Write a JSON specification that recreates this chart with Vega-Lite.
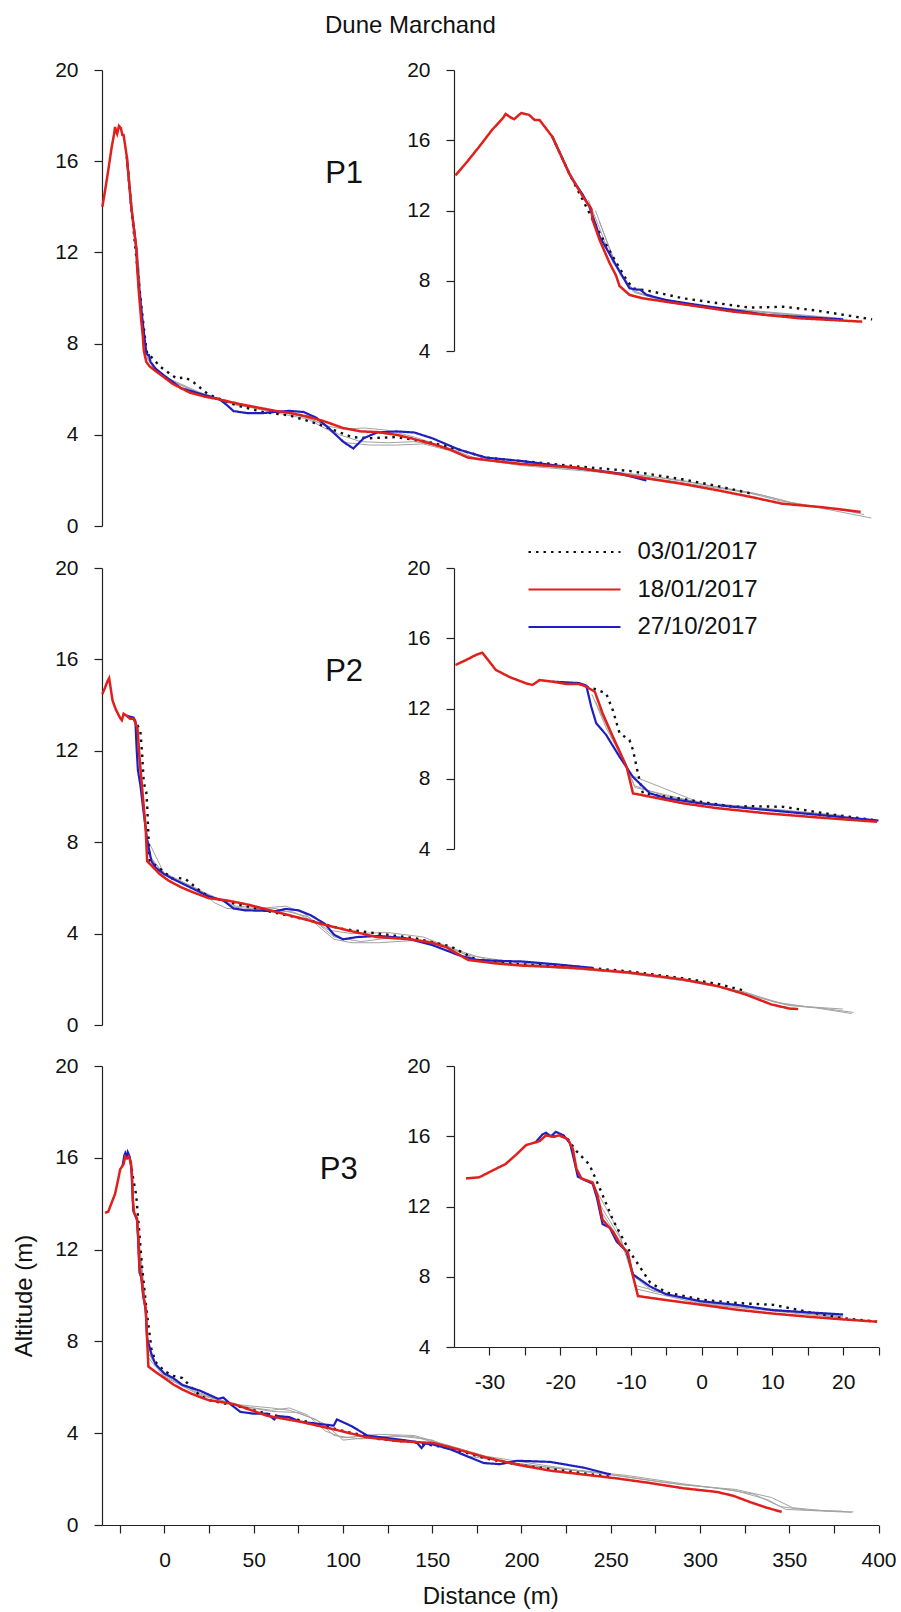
{
  "$schema": "https://vega.github.io/schema/vega-lite/v6.json",
  "width": 901,
  "height": 1612,
  "autosize": {"type": "none"},
  "padding": 0,
  "background": "white",
  "title": {"text": "Dune Marchand", "anchor": "start", "frame": "group", "dx": 325, "dy": 15, "offset": -23, "fontSize": 24, "font": "Liberation Sans", "fontWeight": "normal", "color": "#111"},
  "config": {
    "view": {"stroke": null},
    "font": "Liberation Sans",
    "axis": {"grid": false, "domainColor": "#222", "tickColor": "#222", "labelColor": "#111", "labelFont": "Liberation Sans", "labelFontSize": 21, "tickSize": 8, "labelPadding": 16, "domainWidth": 1.2, "tickWidth": 1.2, "labelFlush": false, "labelOverlap": false, "titleFont": "Liberation Sans", "titleFontSize": 24, "titleFontWeight": "normal", "titleColor": "#111"}
  },
  "data": {"values": [
    {"p":"P1","s":"18/01/2017","x":-34.8,"y":14.0},{"p":"P1","s":"18/01/2017","x":-33.3,"y":14.7},{"p":"P1","s":"18/01/2017","x":-31.5,"y":15.6},{"p":"P1","s":"18/01/2017","x":-29.6,"y":16.6},{"p":"P1","s":"18/01/2017","x":-28.1,"y":17.25},{"p":"P1","s":"18/01/2017","x":-27.7,"y":17.5},{"p":"P1","s":"18/01/2017","x":-27.0,"y":17.3},{"p":"P1","s":"18/01/2017","x":-26.5,"y":17.2},{"p":"P1","s":"18/01/2017","x":-25.5,"y":17.55},{"p":"P1","s":"18/01/2017","x":-24.4,"y":17.45},{"p":"P1","s":"18/01/2017","x":-23.6,"y":17.15},{"p":"P1","s":"18/01/2017","x":-22.9,"y":17.15},{"p":"P1","s":"18/01/2017","x":-21.1,"y":16.2},{"p":"P1","s":"18/01/2017","x":-18.7,"y":14.1},{"p":"P1","s":"18/01/2017","x":-16.8,"y":12.8},{"p":"P1","s":"18/01/2017","x":-15.6,"y":12.1},{"p":"P1","s":"18/01/2017","x":-15.4,"y":11.45},{"p":"P1","s":"18/01/2017","x":-14.4,"y":10.3},{"p":"P1","s":"18/01/2017","x":-13.0,"y":9.0},{"p":"P1","s":"18/01/2017","x":-12.1,"y":8.3},{"p":"P1","s":"18/01/2017","x":-11.6,"y":7.7},{"p":"P1","s":"18/01/2017","x":-10.2,"y":7.2},{"p":"P1","s":"18/01/2017","x":-8.3,"y":7.0},{"p":"P1","s":"18/01/2017","x":-5.0,"y":6.8},{"p":"P1","s":"18/01/2017","x":-0.2,"y":6.52},{"p":"P1","s":"18/01/2017","x":4.5,"y":6.24},{"p":"P1","s":"18/01/2017","x":9.2,"y":6.05},{"p":"P1","s":"18/01/2017","x":13.9,"y":5.86},{"p":"P1","s":"18/01/2017","x":18.7,"y":5.76},{"p":"P1","s":"18/01/2017","x":22.7,"y":5.67},{"p":"P1","s":"18/01/2017","x":31,"y":5.55},{"p":"P1","s":"18/01/2017","x":42,"y":5.35},{"p":"P1","s":"18/01/2017","x":52,"y":5.2},{"p":"P1","s":"18/01/2017","x":62,"y":5.05},{"p":"P1","s":"18/01/2017","x":71,"y":4.95},{"p":"P1","s":"18/01/2017","x":80,"y":4.8},{"p":"P1","s":"18/01/2017","x":90,"y":4.58},{"p":"P1","s":"18/01/2017","x":100,"y":4.3},{"p":"P1","s":"18/01/2017","x":110,"y":4.15},{"p":"P1","s":"18/01/2017","x":119,"y":4.12},{"p":"P1","s":"18/01/2017","x":130,"y":4.0},{"p":"P1","s":"18/01/2017","x":138,"y":3.85},{"p":"P1","s":"18/01/2017","x":150,"y":3.6},{"p":"P1","s":"18/01/2017","x":160,"y":3.35},{"p":"P1","s":"18/01/2017","x":170,"y":3.0},{"p":"P1","s":"18/01/2017","x":185,"y":2.85},{"p":"P1","s":"18/01/2017","x":200,"y":2.72},{"p":"P1","s":"18/01/2017","x":230,"y":2.57},{"p":"P1","s":"18/01/2017","x":265,"y":2.15},{"p":"P1","s":"18/01/2017","x":290,"y":1.85},{"p":"P1","s":"18/01/2017","x":311,"y":1.55},{"p":"P1","s":"18/01/2017","x":330,"y":1.25},{"p":"P1","s":"18/01/2017","x":346,"y":0.98},{"p":"P1","s":"18/01/2017","x":369,"y":0.82},{"p":"P1","s":"18/01/2017","x":390,"y":0.62},
    {"p":"P1","s":"27/10/2017","x":-21.1,"y":16.2},{"p":"P1","s":"27/10/2017","x":-18.7,"y":14.1},{"p":"P1","s":"27/10/2017","x":-18.2,"y":13.74},{"p":"P1","s":"27/10/2017","x":-16.8,"y":12.9},{"p":"P1","s":"27/10/2017","x":-15.85,"y":12.2},{"p":"P1","s":"27/10/2017","x":-14.9,"y":11.1},{"p":"P1","s":"27/10/2017","x":-14.4,"y":10.5},{"p":"P1","s":"27/10/2017","x":-12.55,"y":9.2},{"p":"P1","s":"27/10/2017","x":-10.2,"y":7.57},{"p":"P1","s":"27/10/2017","x":-9.2,"y":7.5},{"p":"P1","s":"27/10/2017","x":-8.7,"y":7.5},{"p":"P1","s":"27/10/2017","x":-7.8,"y":7.2},{"p":"P1","s":"27/10/2017","x":-5.0,"y":6.9},{"p":"P1","s":"27/10/2017","x":-0.2,"y":6.6},{"p":"P1","s":"27/10/2017","x":4.5,"y":6.33},{"p":"P1","s":"27/10/2017","x":9.2,"y":6.05},{"p":"P1","s":"27/10/2017","x":20,"y":5.8},{"p":"P1","s":"27/10/2017","x":31,"y":5.55},{"p":"P1","s":"27/10/2017","x":35,"y":5.3},{"p":"P1","s":"27/10/2017","x":38.7,"y":5.04},{"p":"P1","s":"27/10/2017","x":46.4,"y":4.95},{"p":"P1","s":"27/10/2017","x":55,"y":4.95},{"p":"P1","s":"27/10/2017","x":61.7,"y":5.0},{"p":"P1","s":"27/10/2017","x":70,"y":5.05},{"p":"P1","s":"27/10/2017","x":78,"y":5.0},{"p":"P1","s":"27/10/2017","x":85,"y":4.75},{"p":"P1","s":"27/10/2017","x":92,"y":4.3},{"p":"P1","s":"27/10/2017","x":100,"y":3.7},{"p":"P1","s":"27/10/2017","x":105.8,"y":3.4},{"p":"P1","s":"27/10/2017","x":111.6,"y":3.85},{"p":"P1","s":"27/10/2017","x":119,"y":4.1},{"p":"P1","s":"27/10/2017","x":130,"y":4.15},{"p":"P1","s":"27/10/2017","x":140,"y":4.1},{"p":"P1","s":"27/10/2017","x":150,"y":3.85},{"p":"P1","s":"27/10/2017","x":165,"y":3.35},{"p":"P1","s":"27/10/2017","x":180,"y":3.0},{"p":"P1","s":"27/10/2017","x":200,"y":2.85},{"p":"P1","s":"27/10/2017","x":220,"y":2.65},{"p":"P1","s":"27/10/2017","x":240,"y":2.45},{"p":"P1","s":"27/10/2017","x":255,"y":2.3},{"p":"P1","s":"27/10/2017","x":270,"y":2.0},
    {"p":"P1","s":"03/01/2017","x":-21.1,"y":16.2},{"p":"P1","s":"03/01/2017","x":-18.7,"y":14.1},{"p":"P1","s":"03/01/2017","x":-16.3,"y":12.2},{"p":"P1","s":"03/01/2017","x":-14.4,"y":10.7},{"p":"P1","s":"03/01/2017","x":-12.55,"y":9.37},{"p":"P1","s":"03/01/2017","x":-10.6,"y":8.04},{"p":"P1","s":"03/01/2017","x":-9.7,"y":7.57},{"p":"P1","s":"03/01/2017","x":-6.9,"y":7.38},{"p":"P1","s":"03/01/2017","x":-2.6,"y":7.0},{"p":"P1","s":"03/01/2017","x":2.1,"y":6.73},{"p":"P1","s":"03/01/2017","x":6.8,"y":6.47},{"p":"P1","s":"03/01/2017","x":11.6,"y":6.52},{"p":"P1","s":"03/01/2017","x":16.3,"y":6.3},{"p":"P1","s":"03/01/2017","x":21,"y":6.0},{"p":"P1","s":"03/01/2017","x":24.1,"y":5.8},{"p":"P1","s":"03/01/2017","x":30,"y":5.6},{"p":"P1","s":"03/01/2017","x":40,"y":5.3},{"p":"P1","s":"03/01/2017","x":55,"y":5.0},{"p":"P1","s":"03/01/2017","x":70,"y":4.85},{"p":"P1","s":"03/01/2017","x":85,"y":4.5},{"p":"P1","s":"03/01/2017","x":95,"y":4.2},{"p":"P1","s":"03/01/2017","x":105,"y":3.9},{"p":"P1","s":"03/01/2017","x":115,"y":3.85},{"p":"P1","s":"03/01/2017","x":130,"y":3.9},{"p":"P1","s":"03/01/2017","x":150,"y":3.65},{"p":"P1","s":"03/01/2017","x":165,"y":3.35},{"p":"P1","s":"03/01/2017","x":180,"y":3.0},{"p":"P1","s":"03/01/2017","x":200,"y":2.85},{"p":"P1","s":"03/01/2017","x":230,"y":2.62},{"p":"P1","s":"03/01/2017","x":260,"y":2.42},{"p":"P1","s":"03/01/2017","x":290,"y":2.05},{"p":"P1","s":"03/01/2017","x":310,"y":1.75},{"p":"P1","s":"03/01/2017","x":330,"y":1.4},
    {"p":"P1","s":"g1","x":-16,"y":12.6},{"p":"P1","s":"g1","x":-12.5,"y":9.0},{"p":"P1","s":"g1","x":-9.5,"y":7.4},{"p":"P1","s":"g1","x":-5,"y":6.85},{"p":"P1","s":"g1","x":0,"y":6.55},{"p":"P1","s":"g1","x":20,"y":5.85},{"p":"P1","s":"g1","x":40,"y":5.35},{"p":"P1","s":"g1","x":60,"y":5.0},{"p":"P1","s":"g1","x":80,"y":4.7},{"p":"P1","s":"g1","x":92,"y":4.2},{"p":"P1","s":"g1","x":102,"y":3.65},{"p":"P1","s":"g1","x":115,"y":3.55},{"p":"P1","s":"g1","x":130,"y":3.55},{"p":"P1","s":"g1","x":145,"y":3.6},{"p":"P1","s":"g1","x":160,"y":3.3},{"p":"P1","s":"g1","x":175,"y":2.9},{"p":"P1","s":"g1","x":200,"y":2.7},{"p":"P1","s":"g1","x":230,"y":2.5},{"p":"P1","s":"g1","x":260,"y":2.3},{"p":"P1","s":"g1","x":290,"y":2.0},{"p":"P1","s":"g1","x":310,"y":1.7},{"p":"P1","s":"g1","x":330,"y":1.45},{"p":"P1","s":"g1","x":350,"y":1.05},{"p":"P1","s":"g1","x":370,"y":0.75},{"p":"P1","s":"g1","x":396,"y":0.35},
    {"p":"P1","s":"g2","x":-15,"y":12.0},{"p":"P1","s":"g2","x":-12,"y":8.7},{"p":"P1","s":"g2","x":-9.6,"y":7.35},{"p":"P1","s":"g2","x":-5,"y":6.8},{"p":"P1","s":"g2","x":0,"y":6.5},{"p":"P1","s":"g2","x":20,"y":5.8},{"p":"P1","s":"g2","x":40,"y":5.3},{"p":"P1","s":"g2","x":60,"y":5.05},{"p":"P1","s":"g2","x":75,"y":4.9},{"p":"P1","s":"g2","x":88,"y":4.5},{"p":"P1","s":"g2","x":98,"y":4.0},{"p":"P1","s":"g2","x":110,"y":3.7},{"p":"P1","s":"g2","x":125,"y":3.65},{"p":"P1","s":"g2","x":140,"y":3.7},{"p":"P1","s":"g2","x":155,"y":3.5},{"p":"P1","s":"g2","x":170,"y":3.0},{"p":"P1","s":"g2","x":200,"y":2.65},{"p":"P1","s":"g2","x":230,"y":2.45},{"p":"P1","s":"g2","x":260,"y":2.25},{"p":"P1","s":"g2","x":290,"y":1.9},{"p":"P1","s":"g2","x":315,"y":1.6},{"p":"P1","s":"g2","x":335,"y":1.35},{"p":"P1","s":"g2","x":355,"y":0.95},{"p":"P1","s":"g2","x":380,"y":0.7},{"p":"P1","s":"g2","x":392,"y":0.5},
    {"p":"P1","s":"g3","x":-14.5,"y":11.4},{"p":"P1","s":"g3","x":-11.5,"y":8.3},{"p":"P1","s":"g3","x":-9.2,"y":7.3},{"p":"P1","s":"g3","x":0,"y":6.5},{"p":"P1","s":"g3","x":20,"y":5.82},{"p":"P1","s":"g3","x":45,"y":5.25},{"p":"P1","s":"g3","x":65,"y":5.0},{"p":"P1","s":"g3","x":80,"y":4.75},{"p":"P1","s":"g3","x":90,"y":4.4},{"p":"P1","s":"g3","x":100,"y":4.25},{"p":"P1","s":"g3","x":112,"y":4.3},{"p":"P1","s":"g3","x":125,"y":4.2},{"p":"P1","s":"g3","x":140,"y":3.9},{"p":"P1","s":"g3","x":160,"y":3.4},{"p":"P1","s":"g3","x":175,"y":2.95},{"p":"P1","s":"g3","x":200,"y":2.75},{"p":"P1","s":"g3","x":240,"y":2.45},{"p":"P1","s":"g3","x":270,"y":2.2},{"p":"P1","s":"g3","x":300,"y":1.85},{"p":"P1","s":"g3","x":325,"y":1.5},{"p":"P1","s":"g3","x":345,"y":1.1},{"p":"P1","s":"g3","x":370,"y":0.8},{"p":"P1","s":"g3","x":390,"y":0.6},

    {"p":"P2","s":"18/01/2017","x":-34.8,"y":14.48},{"p":"P2","s":"18/01/2017","x":-33.3,"y":14.76},{"p":"P2","s":"18/01/2017","x":-31.9,"y":15.05},{"p":"P2","s":"18/01/2017","x":-31.0,"y":15.18},{"p":"P2","s":"18/01/2017","x":-30.0,"y":14.67},{"p":"P2","s":"18/01/2017","x":-29.1,"y":14.2},{"p":"P2","s":"18/01/2017","x":-27.2,"y":13.8},{"p":"P2","s":"18/01/2017","x":-24.8,"y":13.43},{"p":"P2","s":"18/01/2017","x":-23.9,"y":13.34},{"p":"P2","s":"18/01/2017","x":-22.9,"y":13.62},{"p":"P2","s":"18/01/2017","x":-21.1,"y":13.53},{"p":"P2","s":"18/01/2017","x":-19.2,"y":13.4},{"p":"P2","s":"18/01/2017","x":-17.3,"y":13.4},{"p":"P2","s":"18/01/2017","x":-16.3,"y":13.24},{"p":"P2","s":"18/01/2017","x":-15.1,"y":12.96},{"p":"P2","s":"18/01/2017","x":-14.0,"y":11.73},{"p":"P2","s":"18/01/2017","x":-12.55,"y":10.4},{"p":"P2","s":"18/01/2017","x":-10.6,"y":8.68},{"p":"P2","s":"18/01/2017","x":-9.7,"y":7.17},{"p":"P2","s":"18/01/2017","x":-7.3,"y":6.98},{"p":"P2","s":"18/01/2017","x":-2.6,"y":6.6},{"p":"P2","s":"18/01/2017","x":2.1,"y":6.33},{"p":"P2","s":"18/01/2017","x":9.2,"y":6.03},{"p":"P2","s":"18/01/2017","x":16.3,"y":5.8},{"p":"P2","s":"18/01/2017","x":24.8,"y":5.55},{"p":"P2","s":"18/01/2017","x":35,"y":5.45},{"p":"P2","s":"18/01/2017","x":45,"y":5.3},{"p":"P2","s":"18/01/2017","x":61.7,"y":4.97},{"p":"P2","s":"18/01/2017","x":75,"y":4.7},{"p":"P2","s":"18/01/2017","x":90,"y":4.38},{"p":"P2","s":"18/01/2017","x":105,"y":4.1},{"p":"P2","s":"18/01/2017","x":119,"y":3.85},{"p":"P2","s":"18/01/2017","x":138,"y":3.75},{"p":"P2","s":"18/01/2017","x":150,"y":3.6},{"p":"P2","s":"18/01/2017","x":158,"y":3.4},{"p":"P2","s":"18/01/2017","x":170,"y":2.85},{"p":"P2","s":"18/01/2017","x":185,"y":2.7},{"p":"P2","s":"18/01/2017","x":200,"y":2.6},{"p":"P2","s":"18/01/2017","x":230,"y":2.5},{"p":"P2","s":"18/01/2017","x":260,"y":2.3},{"p":"P2","s":"18/01/2017","x":290,"y":2.0},{"p":"P2","s":"18/01/2017","x":310,"y":1.7},{"p":"P2","s":"18/01/2017","x":325,"y":1.35},{"p":"P2","s":"18/01/2017","x":340,"y":0.9},{"p":"P2","s":"18/01/2017","x":350,"y":0.72},{"p":"P2","s":"18/01/2017","x":355,"y":0.7},
    {"p":"P2","s":"27/10/2017","x":-21.1,"y":13.53},{"p":"P2","s":"27/10/2017","x":-17.3,"y":13.45},{"p":"P2","s":"27/10/2017","x":-16.3,"y":13.3},{"p":"P2","s":"27/10/2017","x":-15.6,"y":12.1},{"p":"P2","s":"27/10/2017","x":-14.9,"y":11.16},{"p":"P2","s":"27/10/2017","x":-13.5,"y":10.5},{"p":"P2","s":"27/10/2017","x":-11.6,"y":9.25},{"p":"P2","s":"27/10/2017","x":-9.7,"y":8.1},{"p":"P2","s":"27/10/2017","x":-7.3,"y":7.17},{"p":"P2","s":"27/10/2017","x":-5.0,"y":6.89},{"p":"P2","s":"27/10/2017","x":-0.2,"y":6.6},{"p":"P2","s":"27/10/2017","x":4.5,"y":6.4},{"p":"P2","s":"27/10/2017","x":15,"y":6.0},{"p":"P2","s":"27/10/2017","x":25,"y":5.62},{"p":"P2","s":"27/10/2017","x":33,"y":5.45},{"p":"P2","s":"27/10/2017","x":38.7,"y":5.1},{"p":"P2","s":"27/10/2017","x":45,"y":5.02},{"p":"P2","s":"27/10/2017","x":55,"y":5.0},{"p":"P2","s":"27/10/2017","x":62,"y":4.98},{"p":"P2","s":"27/10/2017","x":68,"y":5.08},{"p":"P2","s":"27/10/2017","x":75,"y":5.02},{"p":"P2","s":"27/10/2017","x":82,"y":4.8},{"p":"P2","s":"27/10/2017","x":90,"y":4.42},{"p":"P2","s":"27/10/2017","x":95,"y":3.95},{"p":"P2","s":"27/10/2017","x":100,"y":3.75},{"p":"P2","s":"27/10/2017","x":108,"y":3.85},{"p":"P2","s":"27/10/2017","x":120,"y":3.9},{"p":"P2","s":"27/10/2017","x":135,"y":3.8},{"p":"P2","s":"27/10/2017","x":150,"y":3.5},{"p":"P2","s":"27/10/2017","x":165,"y":3.05},{"p":"P2","s":"27/10/2017","x":175,"y":2.85},{"p":"P2","s":"27/10/2017","x":190,"y":2.8},{"p":"P2","s":"27/10/2017","x":200,"y":2.78},{"p":"P2","s":"27/10/2017","x":220,"y":2.65},{"p":"P2","s":"27/10/2017","x":240,"y":2.5},
    {"p":"P2","s":"03/01/2017","x":-17.3,"y":13.4},{"p":"P2","s":"03/01/2017","x":-16.3,"y":13.24},{"p":"P2","s":"03/01/2017","x":-15,"y":13.1},{"p":"P2","s":"03/01/2017","x":-13.5,"y":12.86},{"p":"P2","s":"03/01/2017","x":-12.55,"y":11.9},{"p":"P2","s":"03/01/2017","x":-11.6,"y":10.6},{"p":"P2","s":"03/01/2017","x":-10.2,"y":10.2},{"p":"P2","s":"03/01/2017","x":-9.7,"y":9.64},{"p":"P2","s":"03/01/2017","x":-9.0,"y":8.3},{"p":"P2","s":"03/01/2017","x":-8.3,"y":7.17},{"p":"P2","s":"03/01/2017","x":-5.0,"y":6.98},{"p":"P2","s":"03/01/2017","x":-0.25,"y":6.7},{"p":"P2","s":"03/01/2017","x":4.5,"y":6.4},{"p":"P2","s":"03/01/2017","x":6.8,"y":6.44},{"p":"P2","s":"03/01/2017","x":11.6,"y":6.4},{"p":"P2","s":"03/01/2017","x":18.7,"y":5.95},{"p":"P2","s":"03/01/2017","x":24.8,"y":5.62},{"p":"P2","s":"03/01/2017","x":40,"y":5.3},{"p":"P2","s":"03/01/2017","x":60,"y":4.95},{"p":"P2","s":"03/01/2017","x":80,"y":4.6},{"p":"P2","s":"03/01/2017","x":100,"y":4.2},{"p":"P2","s":"03/01/2017","x":120,"y":4.0},{"p":"P2","s":"03/01/2017","x":140,"y":3.8},{"p":"P2","s":"03/01/2017","x":160,"y":3.45},{"p":"P2","s":"03/01/2017","x":175,"y":2.85},{"p":"P2","s":"03/01/2017","x":200,"y":2.65},{"p":"P2","s":"03/01/2017","x":230,"y":2.55},{"p":"P2","s":"03/01/2017","x":260,"y":2.35},{"p":"P2","s":"03/01/2017","x":290,"y":2.05},{"p":"P2","s":"03/01/2017","x":310,"y":1.8},{"p":"P2","s":"03/01/2017","x":325,"y":1.5},
    {"p":"P2","s":"g1","x":-15.5,"y":12.8},{"p":"P2","s":"g1","x":-13.5,"y":10.9},{"p":"P2","s":"g1","x":-11,"y":9.0},{"p":"P2","s":"g1","x":-9.5,"y":7.6},{"p":"P2","s":"g1","x":-5,"y":7.0},{"p":"P2","s":"g1","x":0,"y":6.65},{"p":"P2","s":"g1","x":20,"y":5.9},{"p":"P2","s":"g1","x":28,"y":5.35},{"p":"P2","s":"g1","x":35,"y":5.1},{"p":"P2","s":"g1","x":45,"y":5.05},{"p":"P2","s":"g1","x":60,"y":5.15},{"p":"P2","s":"g1","x":68,"y":5.2},{"p":"P2","s":"g1","x":78,"y":4.9},{"p":"P2","s":"g1","x":88,"y":4.2},{"p":"P2","s":"g1","x":95,"y":3.75},{"p":"P2","s":"g1","x":105,"y":3.6},{"p":"P2","s":"g1","x":120,"y":3.6},{"p":"P2","s":"g1","x":140,"y":3.7},{"p":"P2","s":"g1","x":160,"y":3.4},{"p":"P2","s":"g1","x":175,"y":2.85},{"p":"P2","s":"g1","x":200,"y":2.6},{"p":"P2","s":"g1","x":230,"y":2.45},{"p":"P2","s":"g1","x":260,"y":2.25},{"p":"P2","s":"g1","x":290,"y":1.95},{"p":"P2","s":"g1","x":315,"y":1.6},{"p":"P2","s":"g1","x":335,"y":1.15},{"p":"P2","s":"g1","x":350,"y":0.85},{"p":"P2","s":"g1","x":365,"y":0.75},{"p":"P2","s":"g1","x":385,"y":0.5},
    {"p":"P2","s":"g2","x":-15,"y":12.4},{"p":"P2","s":"g2","x":-12.5,"y":10.2},{"p":"P2","s":"g2","x":-10.5,"y":8.6},{"p":"P2","s":"g2","x":-9.4,"y":7.5},{"p":"P2","s":"g2","x":0,"y":6.6},{"p":"P2","s":"g2","x":20,"y":5.85},{"p":"P2","s":"g2","x":40,"y":5.15},{"p":"P2","s":"g2","x":60,"y":5.0},{"p":"P2","s":"g2","x":72,"y":4.95},{"p":"P2","s":"g2","x":85,"y":4.5},{"p":"P2","s":"g2","x":95,"y":3.85},{"p":"P2","s":"g2","x":110,"y":3.65},{"p":"P2","s":"g2","x":130,"y":3.85},{"p":"P2","s":"g2","x":150,"y":3.65},{"p":"P2","s":"g2","x":170,"y":3.05},{"p":"P2","s":"g2","x":200,"y":2.7},{"p":"P2","s":"g2","x":240,"y":2.45},{"p":"P2","s":"g2","x":270,"y":2.15},{"p":"P2","s":"g2","x":300,"y":1.85},{"p":"P2","s":"g2","x":325,"y":1.45},{"p":"P2","s":"g2","x":342,"y":1.0},{"p":"P2","s":"g2","x":360,"y":0.8},{"p":"P2","s":"g2","x":380,"y":0.7},
    {"p":"P2","s":"g3","x":-14.5,"y":12.0},{"p":"P2","s":"g3","x":-12,"y":9.8},{"p":"P2","s":"g3","x":-10,"y":8.2},{"p":"P2","s":"g3","x":0,"y":6.6},{"p":"P2","s":"g3","x":20,"y":5.88},{"p":"P2","s":"g3","x":40,"y":5.2},{"p":"P2","s":"g3","x":62,"y":5.1},{"p":"P2","s":"g3","x":80,"y":4.75},{"p":"P2","s":"g3","x":92,"y":4.15},{"p":"P2","s":"g3","x":105,"y":4.0},{"p":"P2","s":"g3","x":125,"y":4.05},{"p":"P2","s":"g3","x":145,"y":3.85},{"p":"P2","s":"g3","x":165,"y":3.25},{"p":"P2","s":"g3","x":185,"y":2.75},{"p":"P2","s":"g3","x":220,"y":2.5},{"p":"P2","s":"g3","x":260,"y":2.3},{"p":"P2","s":"g3","x":300,"y":1.9},{"p":"P2","s":"g3","x":330,"y":1.3},{"p":"P2","s":"g3","x":348,"y":0.9},{"p":"P2","s":"g3","x":370,"y":0.72},{"p":"P2","s":"g3","x":386,"y":0.55},

    {"p":"P3","s":"18/01/2017","x":-33.3,"y":13.6},{"p":"P3","s":"18/01/2017","x":-31.45,"y":13.66},{"p":"P3","s":"18/01/2017","x":-29.6,"y":14.04},{"p":"P3","s":"18/01/2017","x":-27.7,"y":14.42},{"p":"P3","s":"18/01/2017","x":-26.25,"y":14.94},{"p":"P3","s":"18/01/2017","x":-24.8,"y":15.5},{"p":"P3","s":"18/01/2017","x":-22.9,"y":15.72},{"p":"P3","s":"18/01/2017","x":-22.0,"y":16.05},{"p":"P3","s":"18/01/2017","x":-21.0,"y":15.97},{"p":"P3","s":"18/01/2017","x":-20.1,"y":16.05},{"p":"P3","s":"18/01/2017","x":-18.9,"y":15.83},{"p":"P3","s":"18/01/2017","x":-18.2,"y":15.27},{"p":"P3","s":"18/01/2017","x":-17.7,"y":14.16},{"p":"P3","s":"18/01/2017","x":-17.0,"y":13.6},{"p":"P3","s":"18/01/2017","x":-15.4,"y":13.37},{"p":"P3","s":"18/01/2017","x":-14.7,"y":12.6},{"p":"P3","s":"18/01/2017","x":-14.0,"y":11.25},{"p":"P3","s":"18/01/2017","x":-12.55,"y":10.58},{"p":"P3","s":"18/01/2017","x":-11.6,"y":9.9},{"p":"P3","s":"18/01/2017","x":-10.4,"y":9.35},{"p":"P3","s":"18/01/2017","x":-9.9,"y":8.35},{"p":"P3","s":"18/01/2017","x":-9.0,"y":6.9},{"p":"P3","s":"18/01/2017","x":-5.0,"y":6.67},{"p":"P3","s":"18/01/2017","x":0,"y":6.4},{"p":"P3","s":"18/01/2017","x":5,"y":6.12},{"p":"P3","s":"18/01/2017","x":10.15,"y":5.9},{"p":"P3","s":"18/01/2017","x":15.2,"y":5.72},{"p":"P3","s":"18/01/2017","x":20.1,"y":5.57},{"p":"P3","s":"18/01/2017","x":24.8,"y":5.44},{"p":"P3","s":"18/01/2017","x":38.8,"y":5.27},{"p":"P3","s":"18/01/2017","x":57.5,"y":4.76},{"p":"P3","s":"18/01/2017","x":76.1,"y":4.5},{"p":"P3","s":"18/01/2017","x":94.8,"y":4.17},{"p":"P3","s":"18/01/2017","x":113.5,"y":3.82},{"p":"P3","s":"18/01/2017","x":132,"y":3.65},{"p":"P3","s":"18/01/2017","x":150.8,"y":3.57},{"p":"P3","s":"18/01/2017","x":160,"y":3.39},{"p":"P3","s":"18/01/2017","x":178.8,"y":2.97},{"p":"P3","s":"18/01/2017","x":197.5,"y":2.63},{"p":"P3","s":"18/01/2017","x":216,"y":2.37},{"p":"P3","s":"18/01/2017","x":234.8,"y":2.2},{"p":"P3","s":"18/01/2017","x":253.5,"y":2.03},{"p":"P3","s":"18/01/2017","x":272,"y":1.83},{"p":"P3","s":"18/01/2017","x":290.8,"y":1.6},{"p":"P3","s":"18/01/2017","x":309.5,"y":1.44},{"p":"P3","s":"18/01/2017","x":318.8,"y":1.27},{"p":"P3","s":"18/01/2017","x":328,"y":1.0},{"p":"P3","s":"18/01/2017","x":337.5,"y":0.75},{"p":"P3","s":"18/01/2017","x":345.8,"y":0.57},
    {"p":"P3","s":"27/10/2017","x":-23.5,"y":15.65},{"p":"P3","s":"27/10/2017","x":-22.5,"y":16.1},{"p":"P3","s":"27/10/2017","x":-22.0,"y":16.2},{"p":"P3","s":"27/10/2017","x":-21.3,"y":16.0},{"p":"P3","s":"27/10/2017","x":-20.6,"y":16.25},{"p":"P3","s":"27/10/2017","x":-19.5,"y":16.05},{"p":"P3","s":"27/10/2017","x":-18.6,"y":15.6},{"p":"P3","s":"27/10/2017","x":-18.0,"y":14.6},{"p":"P3","s":"27/10/2017","x":-17.5,"y":13.7},{"p":"P3","s":"27/10/2017","x":-16.5,"y":13.5},{"p":"P3","s":"27/10/2017","x":-15.4,"y":13.3},{"p":"P3","s":"27/10/2017","x":-14.8,"y":12.5},{"p":"P3","s":"27/10/2017","x":-14.0,"y":11.0},{"p":"P3","s":"27/10/2017","x":-13.0,"y":10.8},{"p":"P3","s":"27/10/2017","x":-12.0,"y":10.0},{"p":"P3","s":"27/10/2017","x":-10.6,"y":9.45},{"p":"P3","s":"27/10/2017","x":-9.7,"y":8.13},{"p":"P3","s":"27/10/2017","x":-7.3,"y":7.45},{"p":"P3","s":"27/10/2017","x":-5.0,"y":7.0},{"p":"P3","s":"27/10/2017","x":0,"y":6.6},{"p":"P3","s":"27/10/2017","x":5,"y":6.4},{"p":"P3","s":"27/10/2017","x":10,"y":6.1},{"p":"P3","s":"27/10/2017","x":20,"y":5.85},{"p":"P3","s":"27/10/2017","x":30,"y":5.5},{"p":"P3","s":"27/10/2017","x":33,"y":5.55},{"p":"P3","s":"27/10/2017","x":38,"y":5.2},{"p":"P3","s":"27/10/2017","x":42.5,"y":4.93},{"p":"P3","s":"27/10/2017","x":50,"y":4.85},{"p":"P3","s":"27/10/2017","x":57.5,"y":4.85},{"p":"P3","s":"27/10/2017","x":61.5,"y":4.6},{"p":"P3","s":"27/10/2017","x":63,"y":4.75},{"p":"P3","s":"27/10/2017","x":70,"y":4.7},{"p":"P3","s":"27/10/2017","x":76,"y":4.5},{"p":"P3","s":"27/10/2017","x":87,"y":4.4},{"p":"P3","s":"27/10/2017","x":94.8,"y":4.33},{"p":"P3","s":"27/10/2017","x":96.6,"y":4.6},{"p":"P3","s":"27/10/2017","x":105,"y":4.3},{"p":"P3","s":"27/10/2017","x":113.5,"y":3.9},{"p":"P3","s":"27/10/2017","x":132,"y":3.72},{"p":"P3","s":"27/10/2017","x":141,"y":3.62},{"p":"P3","s":"27/10/2017","x":144,"y":3.35},{"p":"P3","s":"27/10/2017","x":146,"y":3.55},{"p":"P3","s":"27/10/2017","x":150.8,"y":3.5},{"p":"P3","s":"27/10/2017","x":160,"y":3.3},{"p":"P3","s":"27/10/2017","x":178.8,"y":2.7},{"p":"P3","s":"27/10/2017","x":188,"y":2.65},{"p":"P3","s":"27/10/2017","x":197.5,"y":2.8},{"p":"P3","s":"27/10/2017","x":216,"y":2.75},{"p":"P3","s":"27/10/2017","x":234.8,"y":2.5},{"p":"P3","s":"27/10/2017","x":250,"y":2.2},
    {"p":"P3","s":"03/01/2017","x":-21.0,"y":15.97},{"p":"P3","s":"03/01/2017","x":-20.1,"y":16.05},{"p":"P3","s":"03/01/2017","x":-18.9,"y":15.83},{"p":"P3","s":"03/01/2017","x":-17.7,"y":15.16},{"p":"P3","s":"03/01/2017","x":-15.85,"y":14.38},{"p":"P3","s":"03/01/2017","x":-14.4,"y":13.04},{"p":"P3","s":"03/01/2017","x":-12.55,"y":11.25},{"p":"P3","s":"03/01/2017","x":-10.2,"y":9.46},{"p":"P3","s":"03/01/2017","x":-7.3,"y":7.68},{"p":"P3","s":"03/01/2017","x":-5.0,"y":7.1},{"p":"P3","s":"03/01/2017","x":0,"y":6.7},{"p":"P3","s":"03/01/2017","x":5,"y":6.5},{"p":"P3","s":"03/01/2017","x":10.15,"y":6.4},{"p":"P3","s":"03/01/2017","x":15,"y":6.0},{"p":"P3","s":"03/01/2017","x":20.1,"y":5.63},{"p":"P3","s":"03/01/2017","x":24.8,"y":5.44},{"p":"P3","s":"03/01/2017","x":40,"y":5.2},{"p":"P3","s":"03/01/2017","x":60,"y":4.8},{"p":"P3","s":"03/01/2017","x":80,"y":4.5},{"p":"P3","s":"03/01/2017","x":100,"y":4.1},{"p":"P3","s":"03/01/2017","x":120,"y":3.75},{"p":"P3","s":"03/01/2017","x":140,"y":3.6},{"p":"P3","s":"03/01/2017","x":160,"y":3.35},{"p":"P3","s":"03/01/2017","x":180,"y":2.9},{"p":"P3","s":"03/01/2017","x":200,"y":2.6},{"p":"P3","s":"03/01/2017","x":220,"y":2.4},{"p":"P3","s":"03/01/2017","x":250,"y":2.1},
    {"p":"P3","s":"g1","x":-15,"y":13.0},{"p":"P3","s":"g1","x":-12,"y":10.8},{"p":"P3","s":"g1","x":-9.5,"y":8.0},{"p":"P3","s":"g1","x":-7,"y":7.2},{"p":"P3","s":"g1","x":0,"y":6.55},{"p":"P3","s":"g1","x":20,"y":5.75},{"p":"P3","s":"g1","x":40,"y":5.2},{"p":"P3","s":"g1","x":60,"y":5.0},{"p":"P3","s":"g1","x":70,"y":5.1},{"p":"P3","s":"g1","x":80,"y":4.8},{"p":"P3","s":"g1","x":90,"y":4.1},{"p":"P3","s":"g1","x":100,"y":3.8},{"p":"P3","s":"g1","x":120,"y":3.95},{"p":"P3","s":"g1","x":140,"y":3.9},{"p":"P3","s":"g1","x":160,"y":3.45},{"p":"P3","s":"g1","x":180,"y":3.0},{"p":"P3","s":"g1","x":200,"y":2.75},{"p":"P3","s":"g1","x":230,"y":2.4},{"p":"P3","s":"g1","x":260,"y":2.15},{"p":"P3","s":"g1","x":290,"y":1.8},{"p":"P3","s":"g1","x":320,"y":1.5},{"p":"P3","s":"g1","x":338,"y":1.1},{"p":"P3","s":"g1","x":348,"y":0.68},{"p":"P3","s":"g1","x":365,"y":0.62},{"p":"P3","s":"g1","x":385,"y":0.55},
    {"p":"P3","s":"g2","x":-14.5,"y":12.2},{"p":"P3","s":"g2","x":-11.5,"y":10.2},{"p":"P3","s":"g2","x":-9.3,"y":7.5},{"p":"P3","s":"g2","x":0,"y":6.5},{"p":"P3","s":"g2","x":20,"y":5.7},{"p":"P3","s":"g2","x":40,"y":5.25},{"p":"P3","s":"g2","x":60,"y":5.1},{"p":"P3","s":"g2","x":70,"y":5.0},{"p":"P3","s":"g2","x":85,"y":4.6},{"p":"P3","s":"g2","x":95,"y":3.9},{"p":"P3","s":"g2","x":110,"y":3.75},{"p":"P3","s":"g2","x":130,"y":3.9},{"p":"P3","s":"g2","x":150,"y":3.7},{"p":"P3","s":"g2","x":170,"y":3.0},{"p":"P3","s":"g2","x":200,"y":2.65},{"p":"P3","s":"g2","x":240,"y":2.3},{"p":"P3","s":"g2","x":280,"y":1.85},{"p":"P3","s":"g2","x":310,"y":1.6},{"p":"P3","s":"g2","x":330,"y":1.35},{"p":"P3","s":"g2","x":345,"y":0.8},{"p":"P3","s":"g2","x":360,"y":0.65},{"p":"P3","s":"g2","x":380,"y":0.6},
    {"p":"P3","s":"g3","x":-14,"y":11.6},{"p":"P3","s":"g3","x":-11,"y":9.7},{"p":"P3","s":"g3","x":-9.2,"y":7.3},{"p":"P3","s":"g3","x":0,"y":6.45},{"p":"P3","s":"g3","x":20,"y":5.65},{"p":"P3","s":"g3","x":45,"y":5.15},{"p":"P3","s":"g3","x":60,"y":4.95},{"p":"P3","s":"g3","x":75,"y":4.9},{"p":"P3","s":"g3","x":90,"y":4.4},{"p":"P3","s":"g3","x":100,"y":3.7},{"p":"P3","s":"g3","x":120,"y":3.85},{"p":"P3","s":"g3","x":140,"y":3.85},{"p":"P3","s":"g3","x":160,"y":3.4},{"p":"P3","s":"g3","x":180,"y":2.9},{"p":"P3","s":"g3","x":210,"y":2.55},{"p":"P3","s":"g3","x":250,"y":2.2},{"p":"P3","s":"g3","x":290,"y":1.75},{"p":"P3","s":"g3","x":320,"y":1.55},{"p":"P3","s":"g3","x":340,"y":1.2},{"p":"P3","s":"g3","x":352,"y":0.75},{"p":"P3","s":"g3","x":370,"y":0.62},{"p":"P3","s":"g3","x":386,"y":0.57}
  ]},
  "resolve": {"scale": {"x": "independent", "y": "independent"}, "axis": {"x": "independent", "y": "independent"}},
  "layer": [
    {
      "encoding": {
        "x": {"field": "x", "type": "quantitative", "scale": {"domain": [-35, 400], "range": [102, 878.5], "nice": false, "zero": false}, "axis": null},
        "y": {"field": "y", "type": "quantitative", "scale": {"domain": [0, 20], "range": [526, 70], "nice": false, "zero": false}, "axis": {"orient": "left", "offset": -102, "values": [0, 4, 8, 12, 16, 20], "title": null}}
      },
      "layer": [
        {"transform": [{"filter": "datum.p=='P1' && indexof(datum.s,'g')==0"}], "mark": {"type": "line", "color": "#a3a3a3", "strokeWidth": 1}, "encoding": {"detail": {"field": "s"}}},
        {"transform": [{"filter": "datum.p=='P1' && datum.s=='03/01/2017'"}], "mark": {"type": "line", "strokeWidth": 2.4}, "encoding": {"color": {"field": "s", "type": "nominal", "scale": {"domain": ["03/01/2017", "18/01/2017", "27/10/2017"], "range": ["#111111", "#e0201c", "#1f1fc0"]}, "legend": {"title": null, "orient": "none", "legendX": 561.5, "legendY": 539, "symbolType": "M-4,0H4", "symbolSize": 529, "symbolStrokeWidth": 2.2, "labelFontSize": 24, "labelFont": "Liberation Sans", "labelColor": "#111", "labelOffset": 50, "rowPadding": 12.5, "padding": 0}}, "strokeDash": {"field": "s", "type": "nominal", "scale": {"domain": ["03/01/2017", "18/01/2017", "27/10/2017"], "range": [[2.5, 5], [1, 0], [1, 0]]}, "legend": {"title": null, "orient": "none", "legendX": 561.5, "legendY": 539, "symbolType": "M-4,0H4", "symbolSize": 529, "symbolStrokeWidth": 2.2, "labelFontSize": 24, "labelFont": "Liberation Sans", "labelColor": "#111", "labelOffset": 50, "rowPadding": 12.5, "padding": 0}}}},
        {"transform": [{"filter": "datum.p=='P1' && datum.s=='27/10/2017'"}], "mark": {"type": "line", "strokeWidth": 2.2}, "encoding": {"color": {"field": "s", "type": "nominal"}, "strokeDash": {"field": "s", "type": "nominal"}}},
        {"transform": [{"filter": "datum.p=='P1' && datum.s=='18/01/2017'"}], "mark": {"type": "line", "strokeWidth": 2.5}, "encoding": {"color": {"field": "s", "type": "nominal"}, "strokeDash": {"field": "s", "type": "nominal"}}},
        {"data": {"values": [{"label": "P1", "x": 90, "y": 15.45}]}, "mark": {"type": "text", "align": "left", "baseline": "middle", "fontSize": 31, "font": "Liberation Sans", "color": "#111"}, "encoding": {"text": {"field": "label"}}}
      ]
    },
    {
      "encoding": {
        "x": {"field": "x", "type": "quantitative", "scale": {"domain": [-35, 25], "range": [454, 878.5], "nice": false, "zero": false}, "axis": null},
        "y": {"field": "y", "type": "quantitative", "scale": {"domain": [4, 20], "range": [351, 70], "nice": false, "zero": false}, "axis": {"orient": "left", "offset": -454, "values": [4, 8, 12, 16, 20], "title": null}}
      },
      "layer": [
        {"transform": [{"filter": "datum.p=='P1' && datum.x<=25 && indexof(datum.s,'g')==0"}], "mark": {"type": "line", "color": "#a3a3a3", "strokeWidth": 1}, "encoding": {"detail": {"field": "s"}}},
        {"transform": [{"filter": "datum.p=='P1' && datum.x<=25 && datum.s=='03/01/2017'"}], "mark": {"type": "line", "strokeWidth": 2.4}, "encoding": {"color": {"field": "s", "type": "nominal"}, "strokeDash": {"field": "s", "type": "nominal"}}},
        {"transform": [{"filter": "datum.p=='P1' && datum.x<=25 && datum.s=='27/10/2017'"}], "mark": {"type": "line", "strokeWidth": 2.2}, "encoding": {"color": {"field": "s", "type": "nominal"}, "strokeDash": {"field": "s", "type": "nominal"}}},
        {"transform": [{"filter": "datum.p=='P1' && datum.x<=25 && datum.s=='18/01/2017'"}], "mark": {"type": "line", "strokeWidth": 2.5}, "encoding": {"color": {"field": "s", "type": "nominal"}, "strokeDash": {"field": "s", "type": "nominal"}}}
      ]
    },
    {
      "encoding": {
        "x": {"field": "x", "type": "quantitative", "scale": {"domain": [-35, 400], "range": [102, 878.5], "nice": false, "zero": false}, "axis": null},
        "y": {"field": "y", "type": "quantitative", "scale": {"domain": [0, 20], "range": [1025, 568], "nice": false, "zero": false}, "axis": {"orient": "left", "offset": -102, "values": [0, 4, 8, 12, 16, 20], "title": null}}
      },
      "layer": [
        {"transform": [{"filter": "datum.p=='P2' && indexof(datum.s,'g')==0"}], "mark": {"type": "line", "color": "#a3a3a3", "strokeWidth": 1}, "encoding": {"detail": {"field": "s"}}},
        {"transform": [{"filter": "datum.p=='P2' && datum.s=='03/01/2017'"}], "mark": {"type": "line", "strokeWidth": 2.4}, "encoding": {"color": {"field": "s", "type": "nominal"}, "strokeDash": {"field": "s", "type": "nominal"}}},
        {"transform": [{"filter": "datum.p=='P2' && datum.s=='27/10/2017'"}], "mark": {"type": "line", "strokeWidth": 2.2}, "encoding": {"color": {"field": "s", "type": "nominal"}, "strokeDash": {"field": "s", "type": "nominal"}}},
        {"transform": [{"filter": "datum.p=='P2' && datum.s=='18/01/2017'"}], "mark": {"type": "line", "strokeWidth": 2.5}, "encoding": {"color": {"field": "s", "type": "nominal"}, "strokeDash": {"field": "s", "type": "nominal"}}},
        {"data": {"values": [{"label": "P2", "x": 90, "y": 15.45}]}, "mark": {"type": "text", "align": "left", "baseline": "middle", "fontSize": 31, "font": "Liberation Sans", "color": "#111"}, "encoding": {"text": {"field": "label"}}}
      ]
    },
    {
      "encoding": {
        "x": {"field": "x", "type": "quantitative", "scale": {"domain": [-35, 25], "range": [454, 878.5], "nice": false, "zero": false}, "axis": null},
        "y": {"field": "y", "type": "quantitative", "scale": {"domain": [4, 20], "range": [849, 568], "nice": false, "zero": false}, "axis": {"orient": "left", "offset": -454, "values": [4, 8, 12, 16, 20], "title": null}}
      },
      "layer": [
        {"transform": [{"filter": "datum.p=='P2' && datum.x<=25 && indexof(datum.s,'g')==0"}], "mark": {"type": "line", "color": "#a3a3a3", "strokeWidth": 1}, "encoding": {"detail": {"field": "s"}}},
        {"transform": [{"filter": "datum.p=='P2' && datum.x<=25 && datum.s=='03/01/2017'"}], "mark": {"type": "line", "strokeWidth": 2.4}, "encoding": {"color": {"field": "s", "type": "nominal"}, "strokeDash": {"field": "s", "type": "nominal"}}},
        {"transform": [{"filter": "datum.p=='P2' && datum.x<=25 && datum.s=='27/10/2017'"}], "mark": {"type": "line", "strokeWidth": 2.2}, "encoding": {"color": {"field": "s", "type": "nominal"}, "strokeDash": {"field": "s", "type": "nominal"}}},
        {"transform": [{"filter": "datum.p=='P2' && datum.x<=25 && datum.s=='18/01/2017'"}], "mark": {"type": "line", "strokeWidth": 2.5}, "encoding": {"color": {"field": "s", "type": "nominal"}, "strokeDash": {"field": "s", "type": "nominal"}}}
      ]
    },
    {
      "encoding": {
        "x": {"field": "x", "type": "quantitative", "scale": {"domain": [-35, 400], "range": [102, 878.5], "nice": false, "zero": false}, "axis": {"orient": "bottom", "offset": -87, "values": [-25, 0, 25, 50, 75, 100, 125, 150, 175, 200, 225, 250, 275, 300, 325, 350, 375, 400], "labelExpr": "datum.value % 50 == 0 ? '' + datum.value : ''", "title": "Distance (m)", "titlePadding": 14}},
        "y": {"field": "y", "type": "quantitative", "scale": {"domain": [0, 20], "range": [1525, 1066], "nice": false, "zero": false}, "axis": {"orient": "left", "offset": -102, "values": [0, 4, 8, 12, 16, 20], "title": "Altitude (m)", "titlePadding": 18}}
      },
      "layer": [
        {"transform": [{"filter": "datum.p=='P3' && indexof(datum.s,'g')==0"}], "mark": {"type": "line", "color": "#a3a3a3", "strokeWidth": 1}, "encoding": {"detail": {"field": "s"}}},
        {"transform": [{"filter": "datum.p=='P3' && datum.s=='03/01/2017'"}], "mark": {"type": "line", "strokeWidth": 2.4}, "encoding": {"color": {"field": "s", "type": "nominal"}, "strokeDash": {"field": "s", "type": "nominal"}}},
        {"transform": [{"filter": "datum.p=='P3' && datum.s=='27/10/2017'"}], "mark": {"type": "line", "strokeWidth": 2.2}, "encoding": {"color": {"field": "s", "type": "nominal"}, "strokeDash": {"field": "s", "type": "nominal"}}},
        {"transform": [{"filter": "datum.p=='P3' && datum.s=='18/01/2017'"}], "mark": {"type": "line", "strokeWidth": 2.5}, "encoding": {"color": {"field": "s", "type": "nominal"}, "strokeDash": {"field": "s", "type": "nominal"}}},
        {"data": {"values": [{"label": "P3", "x": 87, "y": 15.45}]}, "mark": {"type": "text", "align": "left", "baseline": "middle", "fontSize": 31, "font": "Liberation Sans", "color": "#111"}, "encoding": {"text": {"field": "label"}}}
      ]
    },
    {
      "encoding": {
        "x": {"field": "x", "type": "quantitative", "scale": {"domain": [-35, 25], "range": [454, 878.5], "nice": false, "zero": false}, "axis": {"orient": "bottom", "offset": -265, "values": [-30, -25, -20, -15, -10, -5, 0, 5, 10, 15, 20, 25], "labelExpr": "datum.value % 10 == 0 ? '' + datum.value : ''", "title": null}},
        "y": {"field": "y", "type": "quantitative", "scale": {"domain": [4, 20], "range": [1347, 1066], "nice": false, "zero": false}, "axis": {"orient": "left", "offset": -454, "values": [4, 8, 12, 16, 20], "title": null}}
      },
      "layer": [
        {"transform": [{"filter": "datum.p=='P3' && datum.x<=25 && indexof(datum.s,'g')==0"}], "mark": {"type": "line", "color": "#a3a3a3", "strokeWidth": 1}, "encoding": {"detail": {"field": "s"}}},
        {"transform": [{"filter": "datum.p=='P3' && datum.x<=25 && datum.s=='03/01/2017'"}], "mark": {"type": "line", "strokeWidth": 2.4}, "encoding": {"color": {"field": "s", "type": "nominal"}, "strokeDash": {"field": "s", "type": "nominal"}}},
        {"transform": [{"filter": "datum.p=='P3' && datum.x<=25 && datum.s=='27/10/2017'"}], "mark": {"type": "line", "strokeWidth": 2.2}, "encoding": {"color": {"field": "s", "type": "nominal"}, "strokeDash": {"field": "s", "type": "nominal"}}},
        {"transform": [{"filter": "datum.p=='P3' && datum.x<=25 && datum.s=='18/01/2017'"}], "mark": {"type": "line", "strokeWidth": 2.5}, "encoding": {"color": {"field": "s", "type": "nominal"}, "strokeDash": {"field": "s", "type": "nominal"}}}
      ]
    }
  ]
}
